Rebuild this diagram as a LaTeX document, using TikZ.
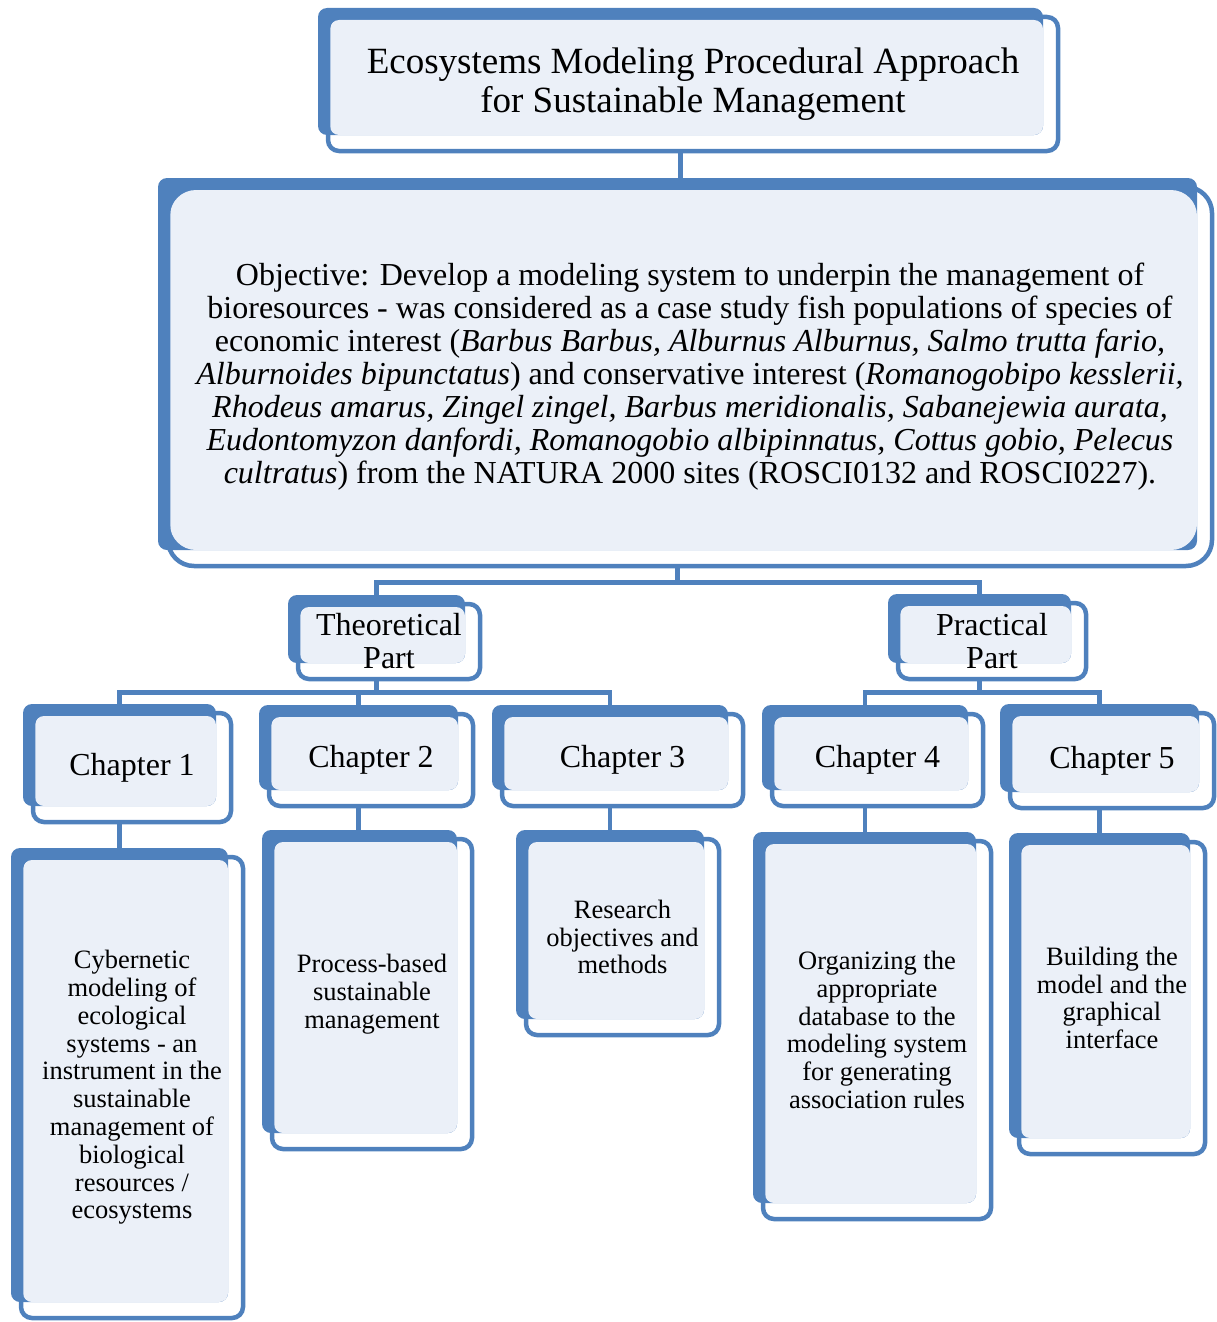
\documentclass[tikz,border=0pt]{standalone}
\usepackage{fontspec}
\setmainfont{Liberation Serif}
\usetikzlibrary{fit}

\definecolor{boxblue}{RGB}{79,129,189}
\definecolor{boxlight}{RGB}{235,240,248}

\tikzset{
  backbox/.style={fill=boxblue, rounded corners=9pt, inner sep=0pt},
  frontfill/.style={fill=boxlight, rounded corners=9pt},
  framebox/.style={draw=boxblue, line width=4.5pt, rounded corners=11pt, inner sep=0pt},
  boxtext/.style={inner sep=0pt, align=center},
  link/.style={draw=boxblue, line width=4.5pt},
  titletext/.style={font=\fontsize{37}{39.5}\selectfont},
  objtext/.style={font=\fontsize{32}{33}\selectfont},
  parttext/.style={font=\fontsize{32}{33}\selectfont},
  smalltext/.style={font=\fontsize{26.5}{27.8}\selectfont},
}

% back box (blue), light fill, frame, then the text
\newcommand{\tierbox}[7][]{%
  \node[backbox, fit={(#3,#4) (#5,#6)}] (#2) {};
  \fill[frontfill, #1] (#3+12,#4+12) rectangle (#5,#6);
  \node[framebox, #1, fit={(#3+10,#4+9) (#5+15,#6+16)}] (#2f) {};
  \node[boxtext, #1] (#2t) at (#2f.center) {#7};
}

\begin{document}
\begin{tikzpicture}[x=1pt, y=-1pt]
    \useasboundingbox (0,0) rectangle (1217,1322);

    % Define the boxes
    \tierbox[titletext]{title}{318}{8}{1043}{135}{Ecosystems Modeling Procedural Approach\\for Sustainable Management}
    \tierbox[objtext, rounded corners=26pt]{objective}{158}{178}{1197}{550}{Objective: Develop a modeling system to underpin the management of\\
      bioresources - was considered as a case study fish populations of species of\\
      economic interest (\textit{Barbus Barbus, Alburnus Alburnus, Salmo trutta fario,}\\
      \textit{Alburnoides bipunctatus}) and conservative interest (\textit{Romanogobipo kesslerii,}\\
      \textit{Rhodeus amarus, Zingel zingel, Barbus meridionalis, Sabanejewia aurata,}\\
      \textit{Eudontomyzon danfordi, Romanogobio albipinnatus, Cottus gobio, Pelecus}\\
      \textit{cultratus}) from the NATURA 2000 sites (ROSCI0132 and ROSCI0227).}
    \tierbox[parttext]{theory}{288}{595}{465}{663}{Theoretical\\Part}
    \tierbox[parttext]{practice}{888}{594}{1071}{663}{Practical\\Part}

    \tierbox[parttext]{ch1}{23}{704}{216}{806}{Chapter 1}
    \tierbox[parttext]{ch2}{259}{705}{458}{790}{Chapter 2}
    \tierbox[parttext]{ch3}{492}{705}{728}{790}{Chapter 3}
    \tierbox[parttext]{ch4}{762}{705}{968}{790}{Chapter 4}
    \tierbox[parttext]{ch5}{1000}{704}{1199}{792}{Chapter 5}

    \tierbox[smalltext]{d1}{11}{848}{228}{1302}{Cybernetic\\modeling of\\ecological\\systems - an\\instrument in the\\sustainable\\management of\\biological\\resources /\\ecosystems}
    \tierbox[smalltext]{d2}{262}{830}{457}{1133}{Process-based\\sustainable\\management}
    \tierbox[smalltext]{d3}{516}{830}{704}{1019}{Research\\objectives and\\methods}
    \tierbox[smalltext]{d4}{753}{832}{976}{1203}{Organizing the\\appropriate\\database to the\\modeling system\\for generating\\association rules}
    \tierbox[smalltext]{d5}{1009}{833}{1190}{1138}{Building the\\model and the\\graphical\\interface}

    % Draw the connectors
    \draw[link] (title.south |- titlef.south) -- (title.south |- objective.north);
    \draw[link] (objective.south |- objectivef.south) -- ++(0,14) coordinate (j1);
    \draw[link] (j1) -| (theory.north);
    \draw[link] (j1) -| (practice.north);

    \draw[link] (theory.south |- theoryf.south) -- ++(0,11) coordinate (j2);
    \draw[link] (j2) -| (ch1.north);
    \draw[link] (j2) -| (ch2.north);
    \draw[link] (j2) -| (ch3.north);
    \draw[link] (practice.south |- practicef.south) -- ++(0,11) coordinate (j3);
    \draw[link] (j3) -| (ch4.north);
    \draw[link] (j3) -| (ch5.north);

    \draw[link] (ch1.south |- ch1f.south) -- (ch1.south |- d1.north);
    \draw[link] (ch2.south |- ch2f.south) -- (ch2.south |- d2.north);
    \draw[link] (ch3.south |- ch3f.south) -- (ch3.south |- d3.north);
    \draw[link] (ch4.south |- ch4f.south) -- (ch4.south |- d4.north);
    \draw[link] (ch5.south |- ch5f.south) -- (ch5.south |- d5.north);
\end{tikzpicture}
\end{document}
